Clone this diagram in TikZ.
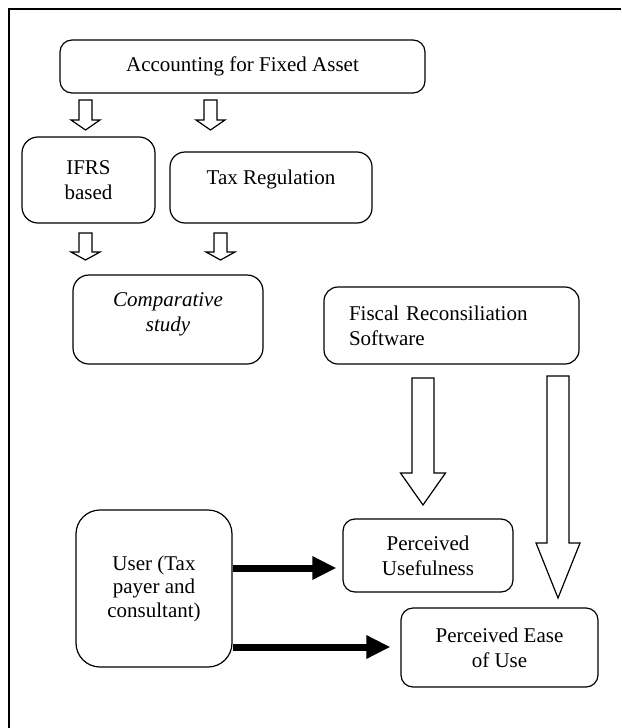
\documentclass[tikz,border=0pt]{standalone}
\usepackage{fontspec}
\setmainfont{Liberation Serif}
\usetikzlibrary{arrows.meta,calc}
\newcommand\hollowdown[6]{%
  \draw[hol] (#1-#5,#2) -- (#1+#5,#2) -- (#1+#5,#3) -- (#1+#6,#3) -- (#1,#4) -- (#1-#6,#3) -- (#1-#5,#3) -- cycle;}
\begin{document}
\begin{tikzpicture}[x=1pt,y=-1pt,
  box/.style={draw, line width=1.2pt, rounded corners=12pt, inner sep=0pt, align=center,
    font=\fontsize{21}{25}\selectfont},
  plain/.style={inner sep=0pt, align=center, font=\fontsize{21}{25}\selectfont},
  hol/.style={draw, line width=1.2pt, fill=white, line join=miter},
  thick arrow/.style={line width=7pt, -{Triangle[length=24pt,width=22pt]}}]
\useasboundingbox (0,0) rectangle (621,728);
\draw[line width=1.8pt] (9,728) -- (9,9) -- (621,9);

\node[box, minimum width=365pt, minimum height=53pt] (acc) at (242.5,66.5) {Accounting for Fixed Asset};
\node[box, rounded corners=16pt, minimum width=133pt, minimum height=86pt] (ifrs) at (88.5,180) {IFRS\\based};
\node[box, rounded corners=15pt, minimum width=202pt, minimum height=71pt] (tax) at (271,187.5) {};
\node[plain] (taxt) at ([yshift=8.5pt]tax.center) {Tax Regulation};
\node[box, rounded corners=16pt, minimum width=190pt, minimum height=89pt] (cs) at (168,319.5) {};
\node[plain] (cst) at ([yshift=5pt]cs.center) {\itshape Comparative\\\itshape study};
\node[box, rounded corners=14pt, minimum height=77pt, inner xsep=25pt, text width=205pt, align=left] (fis) at (451.5,325.5) {Fiscal Reconsiliation\\Software};
\node[box, minimum width=170pt, minimum height=73pt] (pu) at (428,555.5) {Perceived\\Usefulness};
\node[box, minimum width=197pt, minimum height=79pt] (pe) at (499.5,647.5) {Perceived Ease\\of Use};
\node[box, rounded corners=24pt, minimum width=156pt, minimum height=157pt,
  font=\fontsize{21}{23.5}\selectfont] (user) at (154,588.5) {User (Tax\\payer and\\consultant)};

\hollowdown{85.5}{100}{120}{130}{6.5}{14.5}
\hollowdown{210.5}{100}{120}{130}{6.5}{14.5}
\hollowdown{85.5}{233}{252}{260}{6.5}{14.5}
\hollowdown{220.5}{233}{252}{260}{6.5}{14.5}
\hollowdown{423}{378}{473}{505}{11}{22.5}
\hollowdown{558}{376}{543}{598}{11}{22}

\draw[thick arrow, shorten >=6pt] (user.east |- 0,568) -- (pu.west |- 0,568);
\draw[thick arrow, shorten >=10pt] (user.east |- 0,647) -- (pe.west |- 0,647);
\end{tikzpicture}
\end{document}
